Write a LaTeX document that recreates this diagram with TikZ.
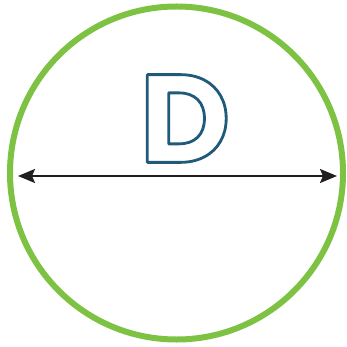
\documentclass[tikz,border=0pt]{standalone}
\usepackage{fontspec}
\newfontfamily\dfont{Poppins}
\usetikzlibrary{arrows.meta}
\definecolor{ringgreen}{HTML}{7DC243}
\definecolor{arrowdark}{HTML}{231F20}
\definecolor{letterblue}{HTML}{1F5A7A}
\newcommand{\outlinetext}[1]{\special{pdf:code q 1 Tr 2.8 w 1 j 0.122 0.353 0.478 RG}#1\special{pdf:code Q}}
\tikzset{
  ring/.style={circle, draw=ringgreen, line width=6pt, minimum size=333pt, inner sep=0pt},
  dimarrow/.style={draw=arrowdark, line width=2pt, {Stealth[length=17pt,width=14pt,inset=3pt]}-{Stealth[length=17pt,width=14pt,inset=3pt]}},
  letter/.style={inner sep=0pt, font=\dfont\bfseries\fontsize{125}{125}\selectfont}
}
\begin{document}
\begin{tikzpicture}[x=1pt,y=-1pt]
\useasboundingbox (0,0) rectangle (346,347);
\node[ring] (c) at (176.5,173) {};
\coordinate (l) at (18,176);
\coordinate (r) at (337,176);
\draw[dimarrow] (l) -- (r);
\node[letter] (d) at (185,118.5) {\outlinetext{D}};
\end{tikzpicture}
\end{document}
